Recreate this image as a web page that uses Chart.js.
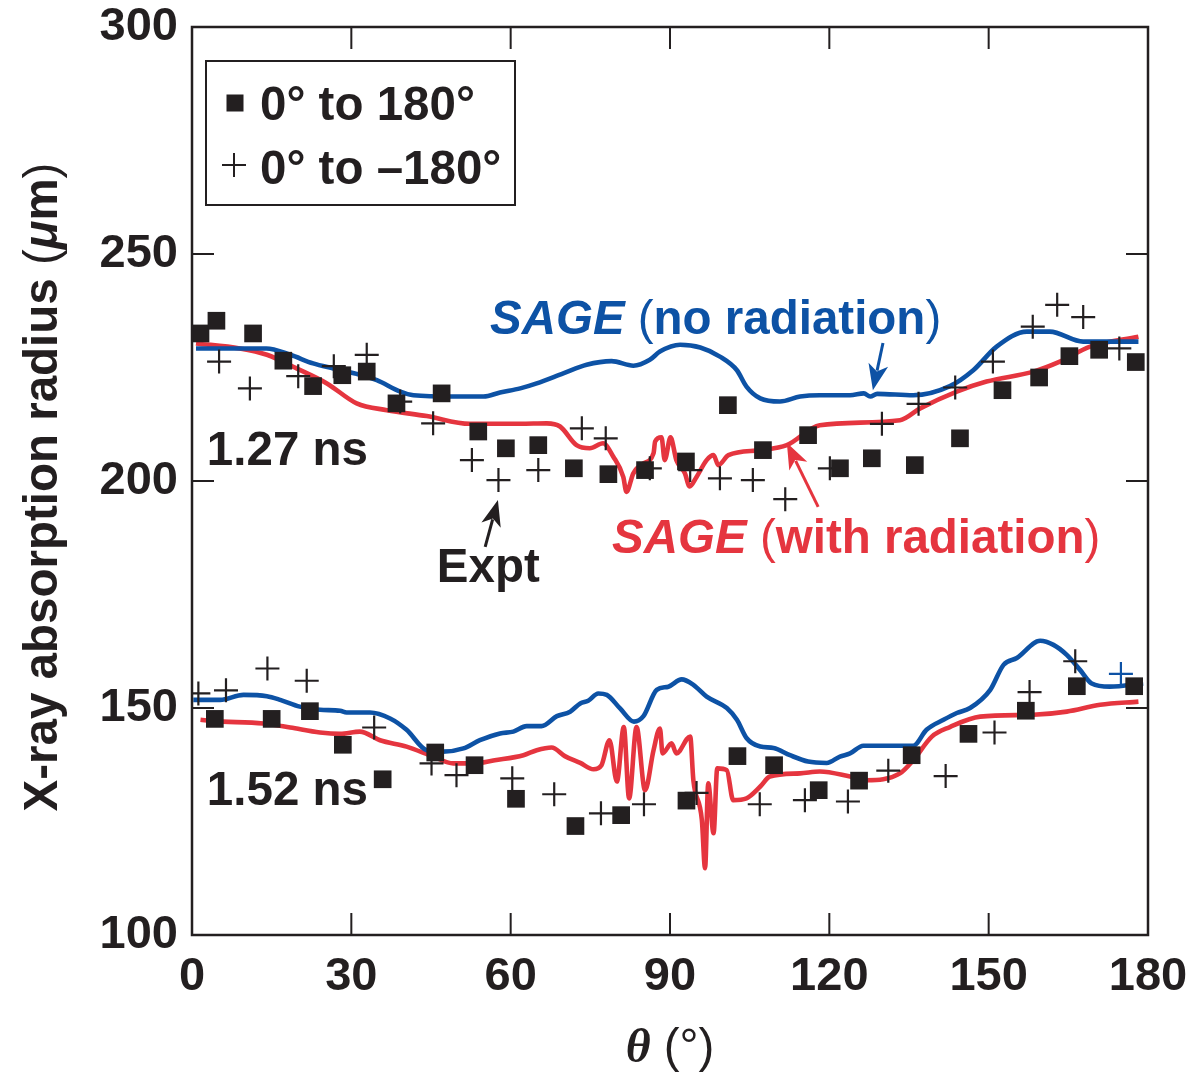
<!DOCTYPE html>
<html>
<head>
<meta charset="utf-8">
<script src="https://cdn.jsdelivr.net/npm/chart.js@4/dist/chart.umd.min.js"></script>
<style>
  body { margin: 0; background: #fff; }
  canvas { display: block; }
</style>
</head>
<body>
<canvas id="chart" width="1195" height="1073"></canvas>
<script>
const BLUE = "#0d52a5";
const RED = "#e5353f";
const INK = "#231f20";
const SANS = '"Liberation Sans", Arial, Helvetica, sans-serif';

// ticks
const xTicks = [0, 30, 60, 90, 120, 150, 180];
const yTicks = [100, 150, 200, 250, 300];

// experiment, 1.27 ns
const squares127 = [[1.6,232.5],[4.6,235.3],[11.5,232.5],[17.2,226.5],[22.8,220.9],[28.3,223.3],[32.9,224.1],[38.5,217.1],[47.0,219.3],[53.9,210.9],[59.1,207.2],[65.2,207.9],[71.9,202.8],[78.4,201.5],[85.3,202.4],[93.0,204.3],[100.9,216.7],[107.5,206.8],[116.0,210.1],[122.0,202.8],[128.0,205.0],[136.1,203.5],[144.6,209.4],[152.6,220.0],[159.5,222.8],[165.2,227.5],[170.8,228.9],[177.7,226.2]];
const crosses127 = [[5.1,226.3],[10.9,220.4],[20.0,223.1],[26.7,225.3],[32.9,227.8],[39.2,217.5],[45.4,212.7],[52.7,204.6],[57.7,200.2],[65.2,202.4],[73.4,211.6],[77.9,209.4],[86.2,202.8],[93.8,202.4],[99.4,200.6],[105.6,200.2],[111.7,196.0],[120.1,202.8],[129.9,212.6],[136.8,217.0],[143.7,220.6],[150.8,226.3],[158.3,234.0],[162.9,238.8],[167.8,236.1],[174.6,229.2]];

// experiment, 1.52 ns
const squares152 = [[4.3,147.6],[15.0,147.6],[22.2,149.3],[28.4,141.9],[35.9,134.3],[45.8,140.2],[53.2,137.4],[61.0,130.0],[72.2,124.0],[80.8,126.4],[93.1,129.6],[102.7,139.4],[109.6,137.4],[118.0,131.9],[125.6,134.0],[135.5,139.6],[146.2,144.3],[157.0,149.4],[166.6,154.8],[177.4,154.8]];
const crosses152 = [[1.2,153.2],[6.4,153.9],[14.2,158.7],[21.6,156.0],[34.3,145.7],[45.1,137.8],[49.8,135.2],[60.3,134.5],[68.2,131.0],[77.0,126.8],[85.1,128.8],[95.0,131.3],[106.9,128.8],[115.4,129.7],[123.5,129.4],[131.1,136.2],[141.9,135.0],[151.1,144.6],[157.7,153.5],[166.3,160.3]];
const crosses152Blue = [[174.9,157.5]];

// SAGE, no radiation
const blue127 = [[0.75,229.2],[14,229.2],[18.5,227.8],[22.8,225.9],[26.6,224.8],[31,223.6],[34.8,222.2],[39.2,219.7],[41.7,218.9],[49.2,218.6],[54.9,218.6],[58,219.5],[61.8,220.4],[64.9,221.5],[69.9,223.7],[74.3,225.6],[79.0,226.4],[83.1,225.4],[86.2,226.7],[88.1,228.5],[91.9,230.0],[95.7,229.4],[99.4,227.4],[102.6,224.4],[104.4,220.8],[107,218.2],[110.7,217.5],[114.5,218.6],[118.2,218.9],[123.9,218.9],[126.5,219.3],[127.7,218.6],[129,219.2],[135.8,218.9],[142.7,220.9],[147.1,224.4],[151.5,229.6],[157.2,232.9],[161.5,232.9],[167.8,230.7],[178.2,230.7]];
const blue152 = [[0.25,151.8],[5.3,151.8],[9.7,152.9],[14.1,152.6],[16.6,151.8],[20.3,150.3],[24.1,149.6],[27.9,149.4],[29.1,149.0],[33.5,149.0],[37.3,147.7],[40.4,145.2],[44.2,140.7],[47.3,140.4],[51.1,141.1],[54.2,142.9],[58,144.4],[60.5,144.8],[63,146.0],[65.8,146.0],[68.7,148.2],[71.2,149.2],[73.1,151.0],[74.6,151.6],[76.5,153.2],[78.1,152.9],[80.6,149.9],[83.2,147.0],[85.0,148.2],[87.5,154.0],[89.7,154.7],[92.2,156.3],[94.4,155.1],[96.9,152.5],[100.7,150.0],[102.6,147.4],[104.4,143.4],[107,141.5],[109.5,141.2],[112.6,139.6],[116,138.2],[119.5,137.9],[122,139.3],[123.9,140.0],[126.4,141.7],[135.8,141.7],[138.3,145.2],[141.5,147.4],[144,148.9],[146.5,150.0],[150.3,154.0],[152.8,159.5],[155.3,161.0],[159.7,164.8],[162.2,163.9],[164.7,161.7],[167.2,158.4],[169.4,155.4],[172.8,154.7],[179.1,155.4]];

// SAGE, with radiation
const red127 = [[0.75,230.3],[9.0,229.2],[14.1,227.8],[19.7,224.8],[25.4,221.5],[31,217.1],[36.7,215.6],[44.2,214.3],[52.3,212.6],[61.8,212.6],[66.8,212.7],[69.3,212.0],[72.4,207.9],[74.9,207.2],[77.4,208.3],[79.3,205.4],[81.2,200.9],[81.8,197.6],[83.1,201.7],[85.0,203.9],[86.9,206.1],[87.2,208.7],[88.4,209.6],[89.0,204.6],[90.1,209.6],[91.2,204.6],[92.8,201.7],[93.7,198.8],[95.0,200.9],[96.9,204.6],[98.2,205.7],[99.1,203.5],[101,205.7],[107,206.8],[112,207.9],[118.2,212.3],[133.3,213.4],[137.1,216.0],[144,219.7],[149.6,221.9],[158.4,224.1],[163.4,226.3],[169.1,229.6],[178.2,231.8]];
const red152 = [[1.6,147.4],[4.0,147.1],[13.4,146.6],[18.5,145.7],[24.1,144.6],[27.9,144.3],[31.6,144.8],[35.4,142.9],[40.4,141.5],[45.4,139.3],[49.2,137.8],[53,137.8],[57,138.5],[62.4,139.6],[64.9,140.7],[67.7,141.3],[70.2,139.4],[73.1,137.9],[75.6,136.5],[77.1,137.4],[78.6,142.9],[80.0,133.8],[81.3,145.8],[82.3,130.1],[83.7,145.8],[85.3,131.9],[86.9,140.7],[88.1,145.5],[88.6,140.0],[90.3,142.2],[91.2,140.0],[93.8,143.7],[94.4,134.1],[96.0,125.3],[96.6,114.7],[97.2,133.4],[98.2,122.4],[98.9,136.7],[100.7,136.3],[101.9,129.7],[104.4,130.1],[107,132.7],[108.8,134.9],[114.5,135.6],[118.2,136.0],[123.9,134.9],[127.0,134.1],[133.3,135.6],[135.8,138.5],[139.3,143.7],[142.7,145.8],[148.4,148.1],[158.4,148.5],[164.7,149.2],[171,150.7],[178.2,151.4]];

const pts = arr => arr.map(([x, y]) => ({ x, y }));

function squareSet(data) {
  return { data: pts(data), pointStyle: "rect", pointRadius: 12.5, backgroundColor: INK, borderWidth: 0, showLine: false };
}
function crossSet(data, color) {
  return { data: pts(data), pointStyle: "cross", pointRadius: 12, borderColor: color, borderWidth: 2.2, showLine: false };
}
function lineSet(data, color) {
  return { data: pts(data), showLine: true, pointRadius: 0, borderColor: color, borderWidth: 4.6, cubicInterpolationMode: "monotone", fill: false };
}

// draw text made of runs with different fonts
function drawRuns(ctx, runs, x, y, align) {
  let total = 0;
  runs.forEach(r => { ctx.font = r.font; total += ctx.measureText(r.t).width; });
  let cx = align === "center" ? x - total / 2 : x;
  ctx.textBaseline = "alphabetic";
  ctx.textAlign = "left";
  runs.forEach(r => {
    ctx.font = r.font;
    ctx.fillStyle = r.color;
    ctx.fillText(r.t, cx, y);
    cx += ctx.measureText(r.t).width;
  });
}

function arrow(ctx, x1, y1, x2, y2, color) {
  const ang = Math.atan2(y2 - y1, x2 - x1);
  const hl = 26, hw = 10;
  const bx = x2 - Math.cos(ang) * hl, by = y2 - Math.sin(ang) * hl;
  ctx.strokeStyle = color;
  ctx.fillStyle = color;
  ctx.lineWidth = 3;
  ctx.beginPath();
  ctx.moveTo(x1, y1);
  ctx.lineTo(bx + Math.cos(ang) * 6, by + Math.sin(ang) * 6);
  ctx.stroke();
  ctx.beginPath();
  ctx.moveTo(x2, y2);
  ctx.lineTo(bx - Math.sin(ang) * hw, by + Math.cos(ang) * hw);
  ctx.lineTo(bx + Math.cos(ang) * 7, by + Math.sin(ang) * 7);
  ctx.lineTo(bx + Math.sin(ang) * hw, by - Math.cos(ang) * hw);
  ctx.closePath();
  ctx.fill();
}

const B = "bold 47.5px " + SANS;
const BI = "italic bold 47.5px " + SANS;
const R = "47.5px " + SANS;

// labels placed in data coordinates
const labels = [
  { x: 56.1, y: 232.4, runs: [["SAGE", BI], [" ", B], ["(", R], ["no radiation", B], [")", R]], color: BLUE },
  { x: 79.1, y: 184.1, runs: [["SAGE", BI], [" ", B], ["(", R], ["with radiation", B], [")", R]], color: RED },
  { x: 46.1, y: 177.8, runs: [["Expt", B]], color: INK },
  { x: 2.8, y: 203.5, runs: [["1.27 ns", B]], color: INK },
  { x: 2.8, y: 128.6, runs: [["1.52 ns", B]], color: INK }
];
const arrows = [
  { from: [55.2, 185.5], to: [57.6, 195.8], color: INK },
  { from: [130.1, 230.4], to: [128.2, 220.0], color: BLUE },
  { from: [117.9, 194.3], to: [112.0, 208.4], color: RED }
];

const decor = {
  id: "decor",
  afterDraw(chart) {
    const { ctx, chartArea: a, scales: { x, y } } = chart;
    ctx.save();

    // frame with inner ticks on four sides
    ctx.strokeStyle = INK;
    ctx.lineWidth = 2.5;
    ctx.strokeRect(a.left, a.top, a.right - a.left, a.bottom - a.top);
    ctx.lineWidth = 2;
    ctx.beginPath();
    xTicks.slice(1, -1).forEach(v => {
      const px = x.getPixelForValue(v);
      ctx.moveTo(px, a.bottom); ctx.lineTo(px, a.bottom - 22);
      ctx.moveTo(px, a.top); ctx.lineTo(px, a.top + 22);
    });
    yTicks.slice(1, -1).forEach(v => {
      const py = y.getPixelForValue(v);
      ctx.moveTo(a.left, py); ctx.lineTo(a.left + 22, py);
      ctx.moveTo(a.right, py); ctx.lineTo(a.right - 22, py);
    });
    ctx.stroke();

    // labels and arrows
    labels.forEach(l => {
      drawRuns(ctx, l.runs.map(([t, font]) => ({ t, font, color: l.color })),
        x.getPixelForValue(l.x), y.getPixelForValue(l.y), "left");
    });
    arrows.forEach(ar => {
      arrow(ctx, x.getPixelForValue(ar.from[0]), y.getPixelForValue(ar.from[1]),
        x.getPixelForValue(ar.to[0]), y.getPixelForValue(ar.to[1]), ar.color);
    });

    // legend box
    ctx.lineWidth = 2;
    ctx.strokeStyle = INK;
    ctx.strokeRect(206, 61, 309, 144);
    ctx.fillStyle = INK;
    ctx.fillRect(226.5, 94.5, 17, 17);
    ctx.beginPath();
    ctx.moveTo(222, 165); ctx.lineTo(246, 165);
    ctx.moveTo(234, 153); ctx.lineTo(234, 177);
    ctx.stroke();
    drawRuns(ctx, [{ t: "0° to 180°", font: B, color: INK }], 260, 120, "left");
    drawRuns(ctx, [{ t: "0° to –180°", font: B, color: INK }], 260, 184, "left");

    // axis titles
    drawRuns(ctx, [
      { t: "θ", font: "italic bold 48px \"Liberation Serif\", serif", color: INK },
      { t: " (°)", font: R, color: INK }
    ], x.getPixelForValue(90), 1062, "center");

    ctx.translate(57, (a.top + a.bottom) / 2 + 6);
    ctx.rotate(-Math.PI / 2);
    drawRuns(ctx, [
      { t: "X-ray absorption radius ", font: B, color: INK },
      { t: "(", font: R, color: INK },
      { t: "μ", font: BI, color: INK },
      { t: "m", font: B, color: INK },
      { t: ")", font: R, color: INK }
    ], 0, 0, "center");
    ctx.restore();
  }
};

const tickFont = { family: SANS, size: 47, weight: "bold" };

new Chart(document.getElementById("chart"), {
  type: "scatter",
  data: {
    datasets: [
      squareSet(squares127),
      crossSet(crosses127, INK),
      squareSet(squares152),
      crossSet(crosses152, INK),
      crossSet(crosses152Blue, BLUE),
      lineSet(blue127, BLUE),
      lineSet(blue152, BLUE),
      lineSet(red127, RED),
      lineSet(red152, RED)
    ]
  },
  options: {
    responsive: false,
    animation: false,
    devicePixelRatio: 1,
    layout: { padding: { top: 27, right: 47, left: 0, bottom: 0 } },
    plugins: { legend: { display: false }, tooltip: { enabled: false } },
    scales: {
      x: {
        type: "linear", min: 0, max: 180,
        afterBuildTicks: s => { s.ticks = xTicks.map(v => ({ value: v })); },
        ticks: { font: tickFont, color: INK, padding: 14, maxRotation: 0 },
        grid: { display: false, drawTicks: false },
        border: { display: false },
        afterFit: s => { s.height = 138; s.paddingLeft = 0; s.paddingRight = 0; }
      },
      y: {
        type: "linear", min: 100, max: 300,
        afterBuildTicks: s => { s.ticks = yTicks.map(v => ({ value: v })); },
        ticks: { font: tickFont, color: INK, padding: 14 },
        grid: { display: false, drawTicks: false },
        border: { display: false },
        afterFit: s => { s.width = 192; s.paddingTop = 0; s.paddingBottom = 0; }
      }
    }
  },
  plugins: [decor]
});
</script>
</body>
</html>
